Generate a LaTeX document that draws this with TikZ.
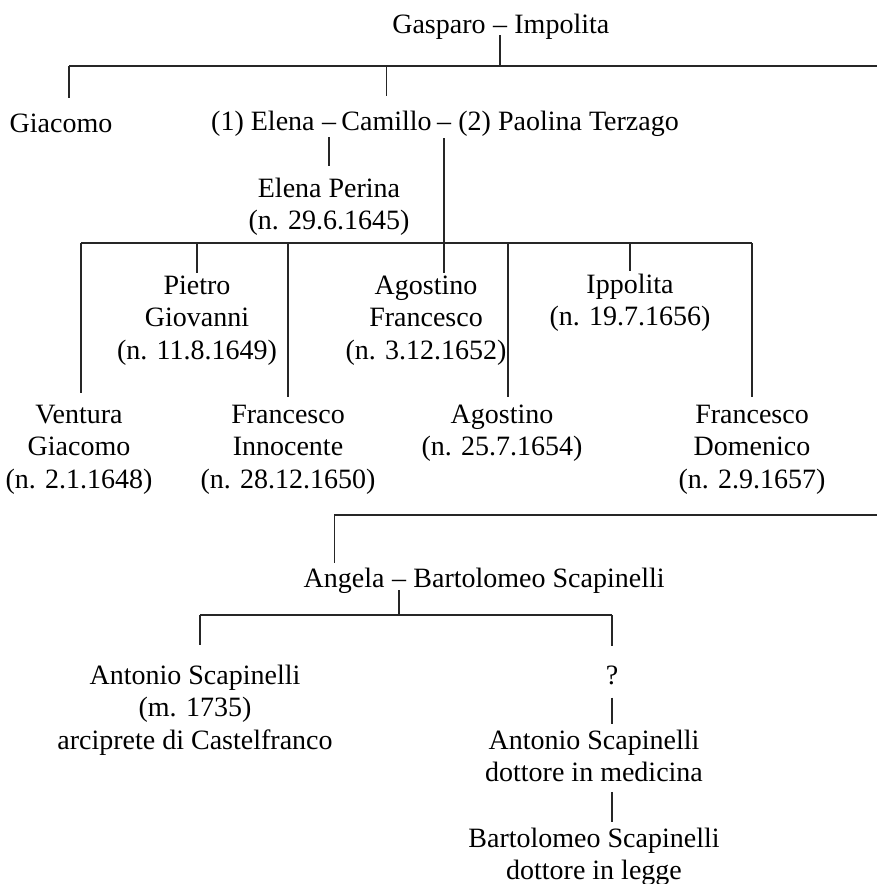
\documentclass[tikz,border=0pt]{standalone}
\usepackage{fontspec}
\setmainfont{Liberation Serif}
\usetikzlibrary{positioning,calc}
\tikzset{%
  nome/.style={inner sep=0pt, anchor=base, align=center,
    font=\fontsize{28}{32.5}\selectfont},
  linea/.style={line width=1.1pt, draw=black!85},
}
% vertical branch from a bar down to a node, #3 = gap above the node
\newcommand{\ramo}[3]{%
\draw[linea] (#1 -| #2) -- ([yshift=#3]#2);
}
% vertical stem from a node down to a bar, #3 = gap below the node
\newcommand{\stelo}[3]{%
\draw[linea] ([yshift=-#3]#1) -- (#1 |- #2);
}

\begin{document}
\begin{tikzpicture}[x=1pt,y=1pt]
\useasboundingbox (0,0) rectangle (877,-884);

% Gasparo
\node[nome] (gd) at (500,-33) {\textendash};
\node[nome,base left=7pt of gd] (gasparo) {Gasparo};
\node[nome,base right=7pt of gd] (impolita) {Impolita};

% second generation
\node[nome] (giacomo) at (61,-132) {Giacomo};
\node[nome] (d1) at (329,-130) {\textendash};
\node[nome] (d2) at (444,-130) {\textendash};
\node[nome,base left=7pt of d1] (elena) {(1) Elena};
\node[nome] (camillo) at ($(d1.base)!0.5!(d2.base)$) {Camillo};
\node[nome,base right=7pt of d2] (paolina) {(2) Paolina Terzago};
\node[nome] (elenap) at (329,-229.5) {Elena Perina\\(n. 29.6.1645)};

% children of Camillo and Paolina (base = last line)
\node[nome] (ventura) at (79,-488) {Ventura\\Giacomo\\(n. 2.1.1648)};
\node[nome] (pietro) at (197,-359) {Pietro\\Giovanni\\(n. 11.8.1649)};
\node[nome] (frinn) at (288,-488) {Francesco\\Innocente\\(n. 28.12.1650)};
\node[nome] (agfr) at (426,-359) {Agostino\\Francesco\\(n. 3.12.1652)};
\node[nome] (agost) at (502,-455.5) {Agostino\\(n. 25.7.1654)};
\node[nome] (ippol) at (630,-325.5) {Ippolita\\(n. 19.7.1656)};
\node[nome] (frdom) at (752,-488) {Francesco\\Domenico\\(n. 2.9.1657)};

% Angela
\node[nome] (d3) at (399,-587) {\textendash};
\node[nome,base left=7pt of d3] (angela) {Angela};
\node[nome,base right=7pt of d3] (bartsc) {Bartolomeo Scapinelli};

\node[nome] (anton1) at (195,-749) {Antonio Scapinelli\\(m. 1735)\\arciprete di Castelfranco};
\node[nome] (ignoto) at (612,-684) {?};
\node[nome] (anton2) at (594,-781.5) {Antonio Scapinelli\\dottore in medicina};
\node[nome] (bartol) at (594,-879.5) {Bartolomeo Scapinelli\\dottore in legge};

% bars
\coordinate (bar1) at (0,-66);
\coordinate (bar1e) at (877,-66);
\coordinate (bar2) at (0,-243);
\coordinate (bar3) at (0,-515);
\coordinate (bar3e) at (877,-515);
\coordinate (bar4) at (0,-615);

\coordinate (giacomo-a) at ([xshift=8pt]giacomo.north);
\coordinate (ventura-a) at ([xshift=2pt]ventura.north);
\coordinate (agfr-a) at (d2.south |- agfr.north);
\coordinate (agost-a) at ([xshift=6pt]agost.north);
\coordinate (angela-a) at ([xshift=-10pt]angela.north);
\coordinate (anton1-a) at ([xshift=5pt]anton1.north);
\coordinate (anton2-a) at (ignoto.south |- anton2.north);
\coordinate (bartol-a) at (ignoto.south |- bartol.north);
\coordinate (anton2-b) at (ignoto.south |- anton2.south);

\draw[linea] (bar1 -| giacomo-a) -- (bar1e);
\stelo{gd.south}{bar1}{2pt}
\ramo{bar1}{giacomo-a}{15pt}
\ramo{bar1}{camillo.north}{14pt}

\draw[linea] ([yshift=-7pt]d1.south) -- ([yshift=11pt]elenap.north);
\draw[linea] ([yshift=-8pt]d2.south) -- ([yshift=2pt]agfr-a);

\draw[linea] (bar2 -| ventura-a) -- (bar2 -| frdom.north);
\ramo{bar2}{ventura-a}{11pt}
\ramo{bar2}{pietro.north}{2pt}
\ramo{bar2}{frinn.north}{7pt}
\ramo{bar2}{agost-a}{7pt}
\ramo{bar2}{ippol.north}{2pt}
\ramo{bar2}{frdom.north}{7pt}

\draw[linea] (bar3 -| angela-a) -- (bar3e);
\ramo{bar3}{angela-a}{4pt}

\stelo{d3.south}{bar4}{3pt}
\draw[linea] (bar4 -| anton1-a) -- (bar4 -| ignoto.north);
\ramo{bar4}{anton1-a}{19pt}
\ramo{bar4}{ignoto.north}{19pt}

\draw[linea] ([yshift=-13pt]ignoto.south) -- ([yshift=5pt]anton2-a);
\draw[linea] ([yshift=-10pt]anton2-b) -- ([yshift=5pt]bartol-a);
\end{tikzpicture}
\end{document}
